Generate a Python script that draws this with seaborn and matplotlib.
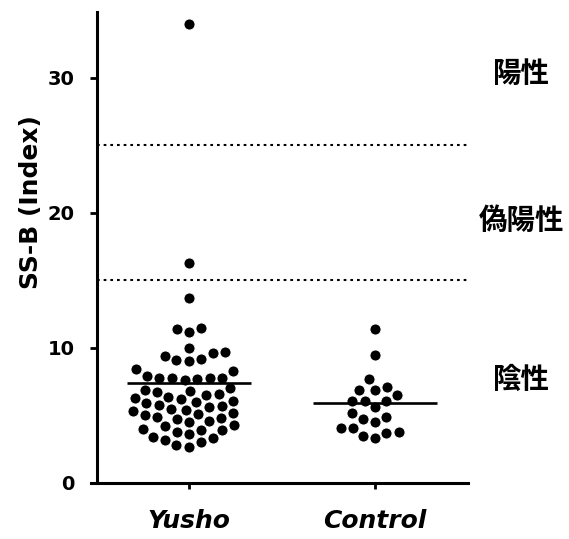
import matplotlib
matplotlib.use("Agg")
import matplotlib.pyplot as plt
import seaborn as sns
import pandas as pd
import numpy as np

categories = ["Yusho", "Control"]
yusho_values = [34.0, 16.3, 13.7, 11.5, 11.4, 11.2,
                10.0, 9.7, 9.6, 9.4, 9.2, 9.1, 9.0,
                8.4, 8.3,
                7.8, 7.8, 7.8, 7.7, 7.8, 7.9, 7.6,
                7.0, 6.9, 6.8, 6.7, 6.6, 6.5, 6.4, 6.3,
                6.2, 6.1, 6.0, 5.9, 5.8, 5.7, 5.6, 5.5, 5.4,
                5.3, 5.2, 5.1, 5.0, 4.9, 4.8, 4.7, 4.6, 4.5,
                4.3, 4.2, 4.0, 3.9, 3.9, 3.8, 3.6, 3.4, 3.3, 3.2, 3.0, 2.8, 2.7]
control_values = [11.4, 9.5, 7.7, 7.1, 6.9, 6.9, 6.1, 6.1, 6.1, 6.5, 5.6,
                  5.2, 4.7, 4.5, 4.9, 4.1, 3.7, 3.3, 3.5, 3.8, 4.1]
mean_values = [7.4, 5.9]
cutoffs = [15, 25]
zone_labels = ["陽性", "偽陽性", "陰性"]
zone_label_y = [30.3, 19.4, 7.6]
y_ticks = [0, 10, 20, 30]

df = pd.DataFrame({
    "group": ["Yusho"] * len(yusho_values) + ["Control"] * len(control_values),
    "value": yusho_values + control_values,
})

sns.set_style("ticks")
plt.rcParams['font.family'] = ['DejaVu Sans']
plt.rcParams.update({"text.color": "black", "axes.labelcolor": "black",
                     "xtick.color": "black", "ytick.color": "black",
                     "axes.edgecolor": "black"})

fig = plt.figure(figsize=(5.69, 5.39), dpi=100)
ax = fig.add_axes([0.1705, 0.1039, 0.652, 0.8738])

sns.swarmplot(data=df, x="group", y="value", order=categories, color="black",
              size=8.0, linewidth=0.7, edgecolor="white", ax=ax, zorder=3)

for i, m in enumerate(mean_values):
    ax.plot([i - 0.335, i + 0.335], [m, m], color="black", lw=1.9, zorder=5,
            solid_capstyle="butt")

for c in cutoffs:
    ax.axhline(c, color="black", lw=1.5, linestyle=(0, (1.3, 1.9)), zorder=2)

ax.set_xlim(-0.495, 1.5)
ax.set_ylim(0, 34.85)
ax.set_yticks(y_ticks)
ax.set_yticklabels([str(t) for t in y_ticks], fontsize=14, fontweight="bold")
ax.set_xticks([0, 1])
ax.set_xticklabels(categories, fontsize=18, fontweight="bold", fontstyle="italic")
ax.set_xlabel("")
ax.set_ylabel("SS-B (Index)", fontsize=18, fontweight="bold")
ax.yaxis.set_label_coords(-0.145, 0.597)

for s in ["top", "right"]:
    ax.spines[s].set_visible(False)
for s in ["left", "bottom"]:
    ax.spines[s].set_linewidth(2.2)
ax.spines["bottom"].set_bounds(-0.53, 1.5)
ax.spines["bottom"].set_clip_on(False)
ax.tick_params(axis="y", length=5, width=2, pad=11)
ax.tick_params(axis="x", length=4, width=2, pad=15)

for lab, yv in zip(zone_labels, zone_label_y):
    ax.text(1.79, yv, lab, ha="center", va="center", fontsize=20.5, fontweight="bold",
            family=["Noto Sans CJK JP", "DejaVu Sans"], clip_on=False)

fig.savefig("out.png", dpi=100)
